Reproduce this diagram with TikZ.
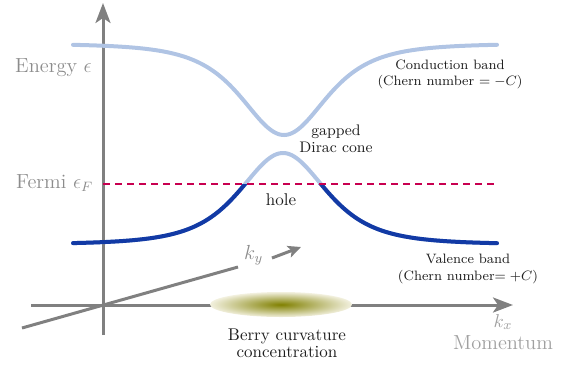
\documentclass[tikz,border=0pt]{standalone}
\usepackage{graphicx}
\usetikzlibrary{arrows.meta}
\definecolor{axisgray}{RGB}{128,128,128}
\definecolor{labgray}{RGB}{140,140,140}
\definecolor{momgray}{RGB}{160,160,160}
\definecolor{bandlight}{RGB}{176,196,228}
\definecolor{banddark}{RGB}{18,58,165}
\definecolor{fermired}{RGB}{200,0,80}
\definecolor{berrydark}{RGB}{128,128,0}
\definecolor{berrylight}{RGB}{242,240,222}
\definecolor{txt}{RGB}{30,30,30}
\newcommand\dlabel[3]{\scalebox{1.7}{\fontsize{#1}{#2}\selectfont\begin{tabular}{@{}c@{}}#3\end{tabular}}}
\newcommand\slabel[2]{\scalebox{1.7}{\fontsize{#1}{#1}\selectfont #2}}
\begin{document}
\begin{tikzpicture}[x=1pt,y=-1pt,
  axisline/.style={draw=axisgray,line width=3pt},
  axisarrow/.style={axisline,-{Stealth[length=20pt,width=15pt,inset=5pt]}},
  bandline/.style={line width=4pt,line cap=round},
  lab/.style={inner sep=0pt,text=txt}]
\useasboundingbox (0,0) rectangle (568,368);

% axes
\coordinate (vbot) at (103,335);
\coordinate (vtop) at (103,3);
\coordinate (hleft) at (31,305);
\coordinate (hright) at (513,305);
\coordinate (yleft) at (22,328);
\coordinate (yright) at (238,267);
\coordinate (ya) at (272,258);
\coordinate (yb) at (301,247);
\draw[axisarrow] (vbot) -- (vtop);
\draw[axisarrow] (hleft) -- (hright);
\draw[axisline] (yleft) -- (yright);
\draw[axisline,-{Stealth[length=13pt,width=12pt,inset=3pt]}] (ya) -- (yb);

% Berry curvature blob
\shade[inner color=berrydark,outer color=berrylight] (281,304.5) ellipse [x radius=71pt,y radius=12.5pt];

% conduction band
\draw[bandline,draw=bandlight] plot[domain=-211:213,samples=240,smooth] ({284+\x},{43.5+91.5/((1+(\x/78)*(\x/78))*(1+(\x/78)*(\x/78)))});

% valence band
\def\valencepath{plot[domain=-210:214,samples=240,smooth] ({283+\x},{244.5-91.5/((1+(\x/79)*(\x/79))*(1+(\x/79)*(\x/79)))})}
\draw[bandline,draw=bandlight] \valencepath;
\begin{scope}
\clip (0,184) rectangle (568,368);
\draw[bandline,draw=banddark] \valencepath;
\end{scope}

% Fermi level
\coordinate (fl) at (103,184);
\coordinate (fr) at (497,184);
\draw[fermired,line width=2.2pt,dash pattern=on 7pt off 5pt] (fl) -- (fr);

% labels
\node[lab,text=labgray,anchor=base west] (energy) at (15,72) {\slabel{12}{Energy $\epsilon$}};
\node[lab,text=labgray,anchor=base west] (fermi) at (16,188) {\slabel{12}{Fermi $\epsilon_F$}};
\node[lab,text=labgray,anchor=base west] (ky) at (244,259) {\slabel{12}{$k_y$}};
\node[lab,text=momgray,anchor=base] (kx) at (503,327) {\slabel{11}{$k_x$}};
\node[lab,text=momgray,anchor=base] (mom) at (503,349.5) {\slabel{12}{Momentum}};
\node[lab] (cond) at (450,74) {\dlabel{8}{9.4}{Conduction band\\(Chern number $= -C$)}};
\node[lab] (val) at (468,268.5) {\dlabel{8}{10}{Valence band\\(Chern number$= +C$)}};
\node[lab] (dirac) at (336,140.5) {\dlabel{9}{10}{gapped\\Dirac cone}};
\node[lab] (hole) at (281,200) {\slabel{10}{hole}};
\node[lab] (berry) at (287,345.5) {\dlabel{10}{10}{Berry curvature\\concentration}};
\end{tikzpicture}
\end{document}
